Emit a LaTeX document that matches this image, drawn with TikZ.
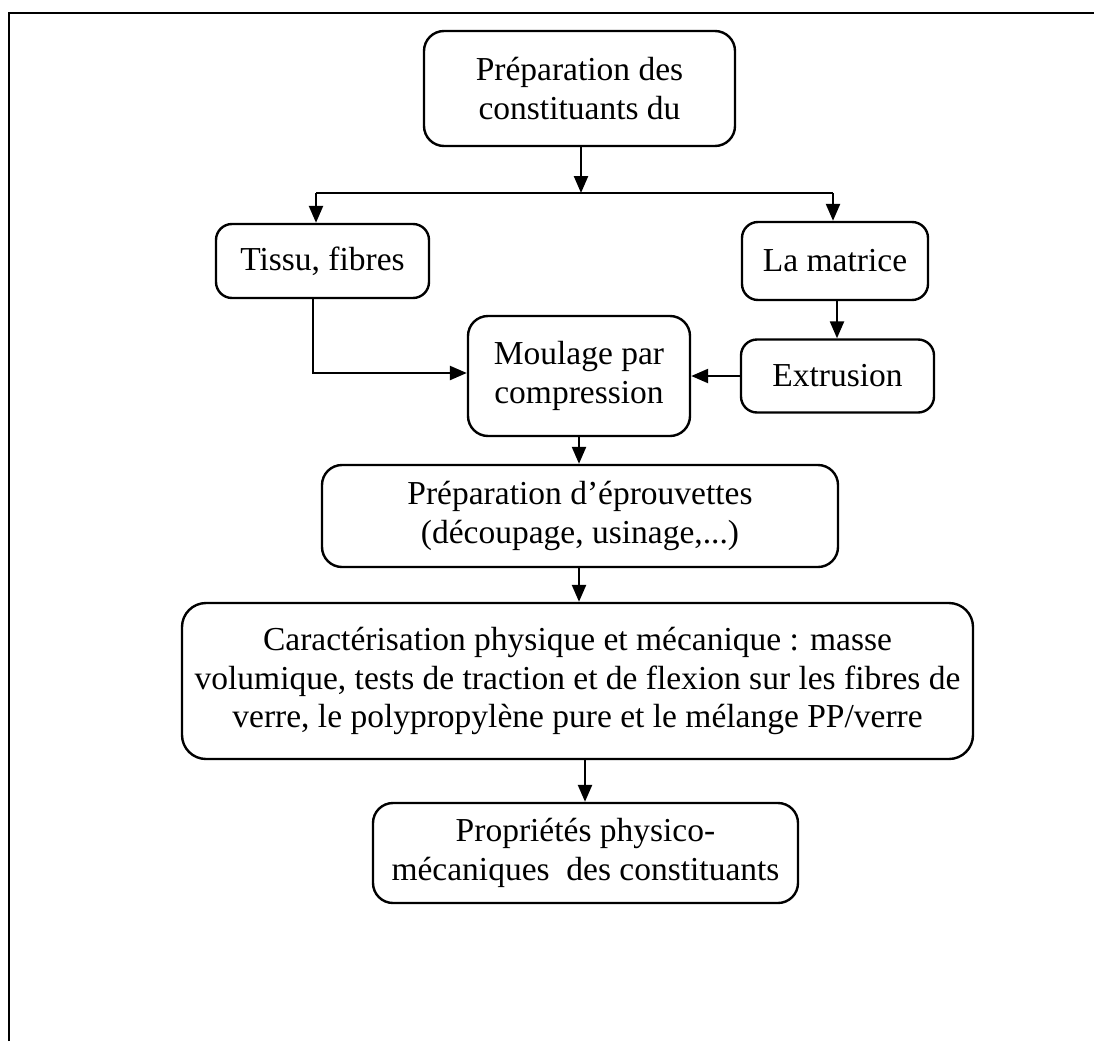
\documentclass[tikz,border=0pt]{standalone}
\usepackage{fontspec}
\setmainfont{Liberation Serif}
\usetikzlibrary{arrows.meta}
\begin{document}
\begin{tikzpicture}[x=1pt,y=-1pt,
  box/.style={draw, line width=2.4pt, rounded corners=16pt, align=center,
    inner sep=0pt, font=\fontsize{33.5}{38.5}\selectfont},
  arr/.style={line width=2.4pt, -{Triangle[length=17pt,width=14pt]}},
  link/.style={line width=2.4pt}]
  \useasboundingbox (0,0) rectangle (1094,1041);
  % page frame (top and left edges only)
  \draw[line width=2.8pt] (9,1041) -- (9,13) -- (1094,13);

  % boxes
  \node[box, minimum width=311pt, minimum height=115pt, rounded corners=20pt]
    (prep) at (579.5,88.5) {Préparation des\\constituants du};
  \node[box, minimum width=213pt, minimum height=74pt]
    (tissu) at (322.5,261) {Tissu, fibres};
  \node[box, minimum width=186pt, minimum height=78pt]
    (matrice) at (835,261) {La matrice};
  \node[box, minimum width=222pt, minimum height=120pt, rounded corners=20pt]
    (moulage) at (579,376) {Moulage par\\compression};
  \node[box, minimum width=193pt, minimum height=73pt]
    (extrusion) at (837.5,376) {Extrusion};
  \node[box, minimum width=516pt, minimum height=102pt, rounded corners=20pt]
    (eprouv) at (580,516) {Préparation d’éprouvettes\\(découpage, usinage,...)};
  \node[box, minimum width=791pt, minimum height=156pt, rounded corners=24pt]
    (caract) at (577.5,681) {Caractérisation physique et mécanique : masse\\volumique, tests de traction et de flexion sur les fibres de\\verre, le polypropylène pure et le mélange PP/verre};
  \node[box, minimum width=425pt, minimum height=100pt, rounded corners=20pt]
    (props) at (585.5,853) {Propriétés physico-\\mécaniques\ \ des constituants};

  % branching line under the first box
  \coordinate (jm) at (581,193);
  \coordinate (jl) at (316,193);
  \coordinate (jr) at (833,193);

  % connectors
  \draw[arr] (prep.south -| jm) -- (jm);
  \draw[link] (jl) -- (jr);
  \draw[arr] (jl) -- (jl |- tissu.north);
  \draw[arr] (jr) -- (jr |- matrice.north);
  \draw[arr] ([xshift=-9.5pt]tissu.south) |- ([yshift=3pt]moulage.west);
  \draw[arr] ([xshift=2pt]matrice.south) -- ([xshift=2pt]matrice.south |- extrusion.north);
  \draw[arr] (extrusion.west) -- (extrusion.west -| moulage.east);
  \draw[arr] (moulage.south) -- (moulage.south |- eprouv.north);
  \draw[arr] (eprouv.south -| moulage.south) -- (moulage.south |- caract.north);
  \draw[arr] ([xshift=7.5pt]caract.south) -- ([xshift=7.5pt]caract.south |- props.north);
\end{tikzpicture}
\end{document}
